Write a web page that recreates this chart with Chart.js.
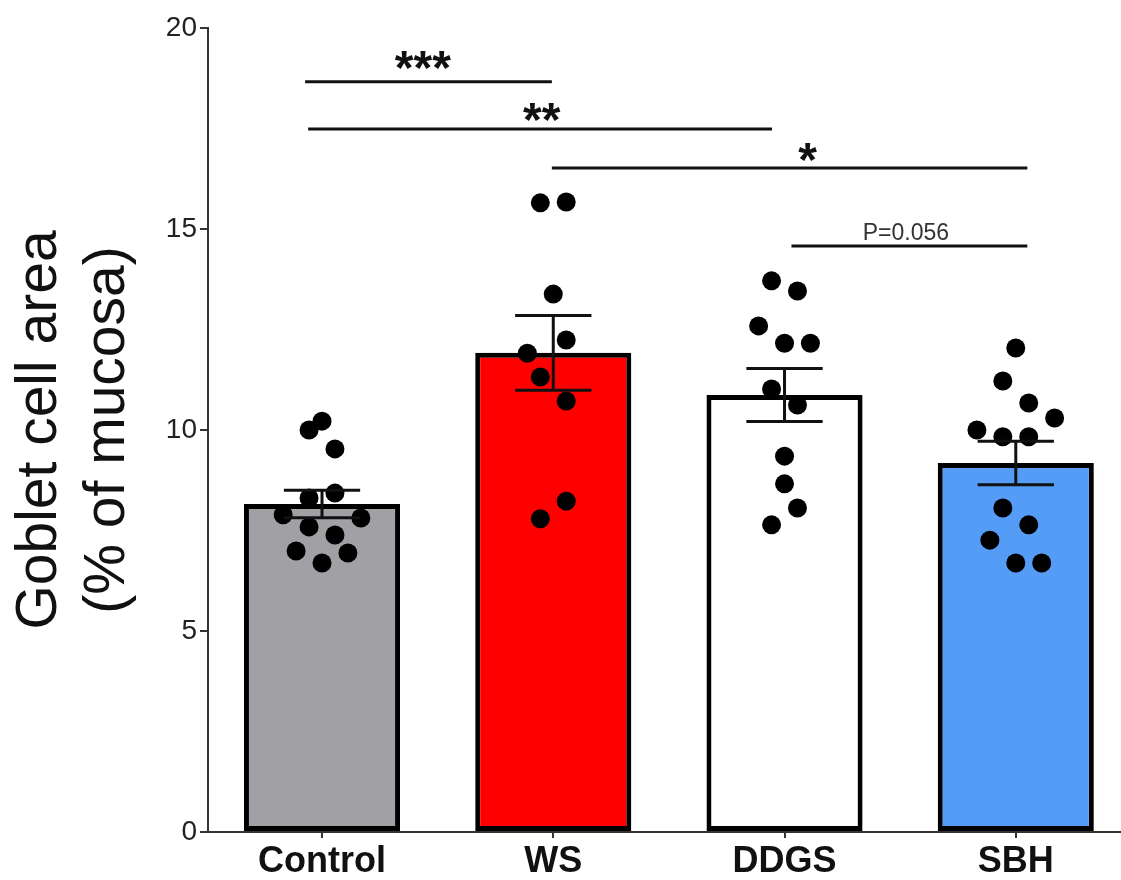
<!DOCTYPE html>
<html>
<head>
<meta charset="utf-8">
<script src="https://cdn.jsdelivr.net/npm/chart.js@4.4.0/dist/chart.umd.min.js"></script>
<style>
  body { margin: 0; background: #fff; }
  #wrap { width: 1121px; height: 880px; }
</style>
</head>
<body>
<div id="wrap"><canvas id="chart"></canvas></div>
<script>
// group summary (mean +/- SEM)
var groups = ['Control', 'WS', 'DDGS', 'SBH'];
var means = [8.16, 11.92, 10.87, 9.18];
var sems = [0.34, 0.93, 0.66, 0.54];
var barColors = ['#a1a1a5', '#ff0000', '#ffffff', '#559cf7'];

// individual animals
var controlVals = [10.0, 10.22, 9.53, 8.43, 8.31, 7.89, 7.81, 7.59, 7.39, 6.99, 6.94, 6.69];
var wsVals = [15.65, 15.67, 13.38, 12.24, 11.91, 11.32, 10.72, 8.23, 7.79];
var ddgsVals = [13.71, 13.46, 12.59, 12.16, 12.16, 11.02, 10.62, 9.35, 8.66, 8.06, 7.64];
var sbhVals = [12.04, 11.22, 10.67, 10.30, 10.0, 9.83, 9.83, 8.06, 7.64, 7.26, 6.69, 6.69];

// horizontal spread of the dots, in category units
var controlJitter = [-0.056, 0, 0.056, 0.056, -0.056, -0.168, 0.168, -0.056, 0.056, -0.112, 0.112, 0];
var wsJitter = [-0.056, 0.056, 0, 0.056, -0.112, -0.056, 0.056, 0.056, -0.056];
var ddgsJitter = [-0.056, 0.056, -0.112, 0, 0.112, -0.056, 0.056, 0, 0, 0.056, -0.056];
var sbhJitter = [0, -0.056, 0.056, 0.168, -0.168, -0.056, 0.056, -0.056, 0.056, -0.112, 0, 0.112];

var yTicks = [0, 5, 10, 15, 20];

// significance brackets
var bracketFrom = [-0.073, -0.06, 0.994, 2.03];
var bracketTo = [0.994, 1.946, 3.05, 3.05];
var bracketY = [18.66, 17.49, 16.52, 14.58];
var bracketText = ['***', '**', '*', 'P=0.056'];
var bracketTextX = [0.436, 0.95, 2.10, 2.525];
var bracketTextY = [19.2, 17.91, 16.92, 14.93];

var FONT = "'Liberation Sans', Arial, Helvetica, sans-serif";

var dotVals = [controlVals, wsVals, ddgsVals, sbhVals];
var dotJitter = [controlJitter, wsJitter, ddgsJitter, sbhJitter];
var dotData = [];
dotVals.forEach(function(vals, g) {
    vals.forEach(function(v, i) {
        dotData.push({ x: g + dotJitter[g][i], y: v });
    });
});

var extras = {
    id: 'extras',
    afterDatasetsDraw: function(chart) {
        var ctx = chart.ctx;
        var xs = chart.scales.x, ys = chart.scales.y;
        ctx.save();
        ctx.strokeStyle = '#111';
        ctx.lineWidth = 3;
        // error bars
        for (var i = 0; i < means.length; i++) {
            var cx = xs.getPixelForValue(i);
            var hw = xs.getPixelForValue(i + 0.165) - cx;
            var yt = ys.getPixelForValue(means[i] + sems[i]);
            var yb = ys.getPixelForValue(means[i] - sems[i]);
            ctx.beginPath();
            ctx.moveTo(cx, yt); ctx.lineTo(cx, yb);
            ctx.moveTo(cx - hw, yt); ctx.lineTo(cx + hw, yt);
            ctx.moveTo(cx - hw, yb); ctx.lineTo(cx + hw, yb);
            ctx.stroke();
        }
        // brackets + labels
        for (var j = 0; j < bracketText.length; j++) {
            var y = ys.getPixelForValue(bracketY[j]);
            ctx.beginPath();
            ctx.moveTo(xs.getPixelForValue(bracketFrom[j]), y);
            ctx.lineTo(xs.getPixelForValue(bracketTo[j]), y);
            ctx.stroke();
            var small = bracketText[j].charAt(0) == 'P';
            ctx.font = small ? ('23px ' + FONT) : ('bold 48px ' + FONT);
            ctx.fillStyle = small ? '#333' : '#111';
            ctx.textAlign = 'center';
            ctx.textBaseline = 'alphabetic';
            var m = ctx.measureText(bracketText[j]);
            var ty = ys.getPixelForValue(bracketTextY[j]) + (m.actualBoundingBoxAscent - m.actualBoundingBoxDescent) / 2;
            ctx.fillText(bracketText[j], xs.getPixelForValue(bracketTextX[j]), ty);
        }
        ctx.restore();
    }
};

window.onload = function() {
    var ctx = document.getElementById('chart').getContext('2d');
    window.myChart = new Chart(ctx, {
        type: 'bar',
        data: {
            datasets: [{
                type: 'scatter',
                data: dotData,
                backgroundColor: '#000',
                borderWidth: 0,
                pointRadius: 9.5,
                order: 1
            }, {
                type: 'bar',
                data: means.map(function(m, i) { return { x: i, y: m }; }),
                backgroundColor: barColors,
                borderColor: '#000',
                borderWidth: 5,
                borderSkipped: false,
                barPercentage: 0.675,
                categoryPercentage: 1,
                order: 2
            }]
        },
        options: {
            animation: false,
            responsive: true,
            maintainAspectRatio: false,
            layout: { autoPadding: false, padding: { top: 28, right: 0, left: 0, bottom: 0 } },
            plugins: { legend: { display: false }, tooltip: { enabled: false } },
            scales: {
                x: {
                    type: 'linear',
                    min: -0.493,
                    max: 3.455,
                    offset: false,
                    afterBuildTicks: function(s) {
                        s.ticks = groups.map(function(g, i) { return { value: i }; });
                    },
                    afterFit: function(s) { s.height = 48; },
                    ticks: {
                        callback: function(v) { return groups[v]; },
                        font: { family: FONT, size: 36, weight: 'bold' },
                        color: '#111',
                        padding: 2,
                        maxRotation: 0,
                        autoSkip: false
                    },
                    grid: { offset: false, drawOnChartArea: false, tickLength: 6, color: '#333', lineWidth: 2 },
                    border: { color: '#333', width: 2 }
                },
                y: {
                    min: 0,
                    max: 20,
                    afterBuildTicks: function(s) {
                        s.ticks = yTicks.map(function(v) { return { value: v }; });
                    },
                    afterFit: function(s) { s.width = 208; },
                    ticks: {
                        font: { family: FONT, size: 28 },
                        color: '#222',
                        padding: 3
                    },
                    grid: { drawOnChartArea: false, tickLength: 8, color: '#333', lineWidth: 2 },
                    border: { color: '#333', width: 2 },
                    title: {
                        display: true,
                        text: ['Goblet cell area', '(% of mucosa)'],
                        font: { family: FONT, size: 57, lineHeight: 1.18 },
                        color: '#111',
                        padding: { top: 7, bottom: 0 }
                    }
                }
            }
        },
        plugins: [extras]
    });
};
</script>
</body>
</html>
